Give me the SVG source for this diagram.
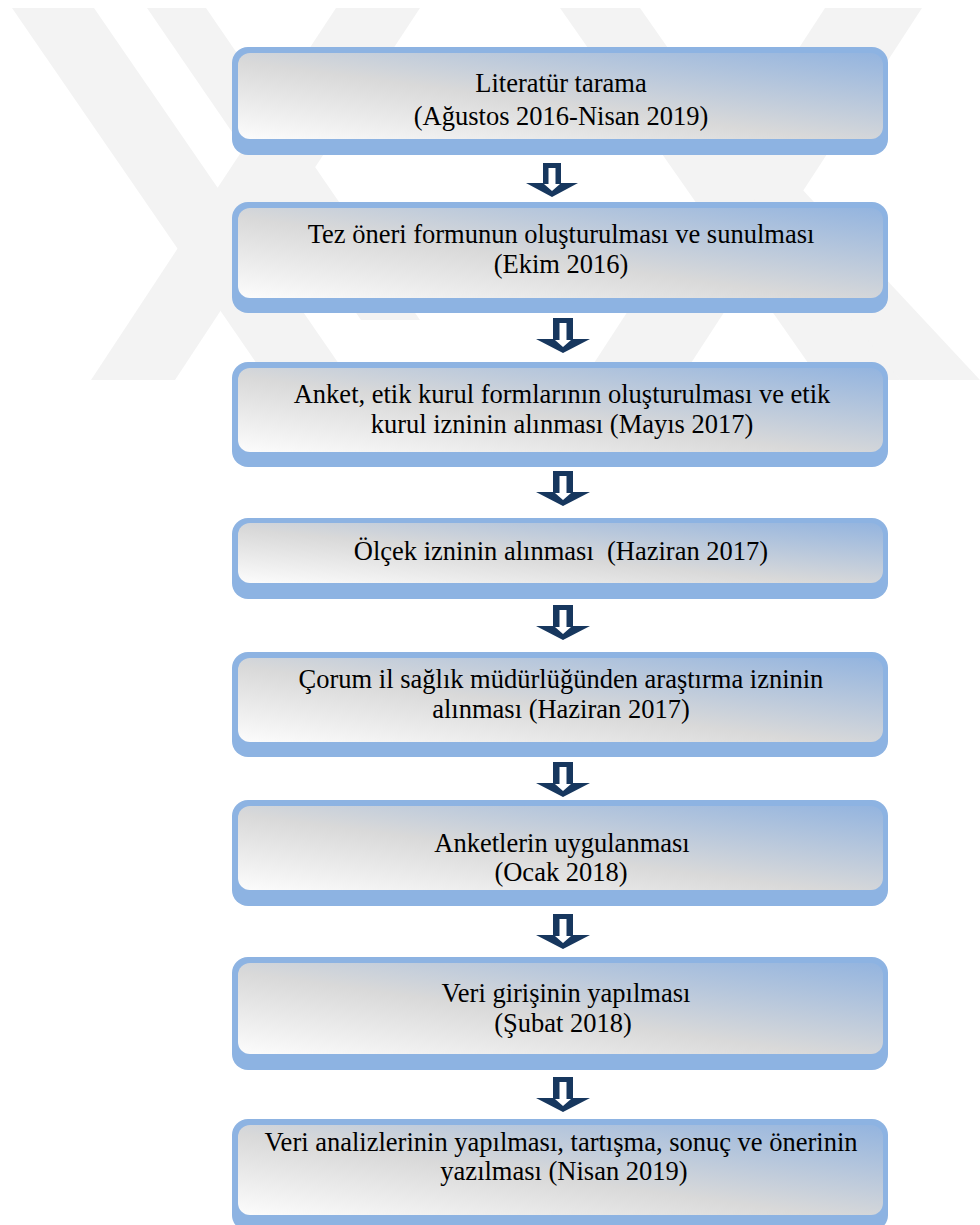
<svg xmlns="http://www.w3.org/2000/svg" width="980" height="1225" viewBox="0 0 980 1225">
<defs>
<linearGradient id="g" x1="0" y1="1" x2="1" y2="0">
<stop offset="0" stop-color="#fcfcfc"/>
<stop offset="0.45" stop-color="#d9d9d9"/>
<stop offset="1" stop-color="#93b4df"/>
</linearGradient>
<style>
.o{fill:#8db3e2}
.i{fill:url(#g)}
.t{font-family:"Liberation Serif","Times New Roman",serif;font-size:26.5px;fill:#000;text-anchor:middle}
.ad{fill:#17375e}
.aw{fill:#fff}
.w{fill:#f3f3f3}
</style>
</defs>
<rect width="980" height="1225" fill="#fff"/>
<g id="watermark">
<polygon class="w" points="12,8 94,8 350,380 268,380"/>
<polygon class="w" points="147,8 206,8 420,320 361,320"/>
<polygon class="w" points="91,380 175,380 420,8 336,8"/>
<polygon class="w" points="825,8 922,8 680,380 583,380"/>
<polygon class="w" points="560,8 640,8 900,380 820,380"/>
<polygon class="w" points="744,187 800,187 980,380 900,380"/>
</g>
<g id="connectors">
<g transform="translate(552,163)">
<path class="ad" d="M-9,0 H9 V20 H26 L0,34 L-26,20 H-9 Z"/>
<path class="aw" d="M-3.5,5 H3.5 V21 H8 L0,28 L-8,21 H-3.5 Z"/>
</g>
<g transform="translate(563,318)">
<path class="ad" d="M-10,0 H10 V21 H27 L0,35 L-27,21 H-10 Z"/>
<path class="aw" d="M-3.5,5 H3.5 V22 H8 L0,29 L-8,22 H-3.5 Z"/>
</g>
<g transform="translate(563,471)">
<path class="ad" d="M-10,0 H10 V21 H27 L0,35 L-27,21 H-10 Z"/>
<path class="aw" d="M-3.5,5 H3.5 V22 H8 L0,29 L-8,22 H-3.5 Z"/>
</g>
<g transform="translate(563,605)">
<path class="ad" d="M-10,0 H10 V21 H27 L0,35 L-27,21 H-10 Z"/>
<path class="aw" d="M-3.5,5 H3.5 V22 H8 L0,29 L-8,22 H-3.5 Z"/>
</g>
<g transform="translate(563,762)">
<path class="ad" d="M-10,0 H10 V21 H27 L0,35 L-27,21 H-10 Z"/>
<path class="aw" d="M-3.5,5 H3.5 V22 H8 L0,29 L-8,22 H-3.5 Z"/>
</g>
<g transform="translate(563,914)">
<path class="ad" d="M-10,0 H10 V21 H27 L0,35 L-27,21 H-10 Z"/>
<path class="aw" d="M-3.5,5 H3.5 V22 H8 L0,29 L-8,22 H-3.5 Z"/>
</g>
<g transform="translate(563,1077)">
<path class="ad" d="M-10,0 H10 V21 H27 L0,35 L-27,21 H-10 Z"/>
<path class="aw" d="M-3.5,5 H3.5 V22 H8 L0,29 L-8,22 H-3.5 Z"/>
</g>
</g>
<g id="n1">
<rect class="o" x="232" y="47" width="656" height="108" rx="16"/>
<rect class="i" x="238" y="53" width="645" height="86" rx="12"/>
<text class="t" x="561" y="92">Literatür tarama</text>
<text class="t" x="561" y="125">(Ağustos 2016-Nisan 2019)</text>
</g>
<g id="n2">
<rect class="o" x="232" y="202" width="656" height="111" rx="16"/>
<rect class="i" x="238" y="208" width="645" height="90" rx="12"/>
<text class="t" x="561" y="243">Tez öneri formunun oluşturulması ve sunulması</text>
<text class="t" x="561" y="273">(Ekim 2016)</text>
</g>
<g id="n3">
<rect class="o" x="232" y="362" width="656" height="105" rx="16"/>
<rect class="i" x="238" y="368" width="645" height="84" rx="12"/>
<text class="t" x="562" y="403">Anket, etik kurul formlarının oluşturulması ve etik</text>
<text class="t" x="562" y="433">kurul izninin alınması (Mayıs 2017)</text>
</g>
<g id="n4">
<rect class="o" x="232" y="518" width="656" height="81" rx="16"/>
<rect class="i" x="238" y="523" width="645" height="60" rx="12"/>
<text class="t" x="561" y="560" xml:space="preserve">Ölçek izninin alınması  (Haziran 2017)</text>
</g>
<g id="n5">
<rect class="o" x="232" y="652" width="656" height="105" rx="16"/>
<rect class="i" x="238" y="658" width="645" height="84" rx="12"/>
<text class="t" x="561" y="688">Çorum il sağlık müdürlüğünden araştırma izninin</text>
<text class="t" x="561" y="718">alınması (Haziran 2017)</text>
</g>
<g id="n6">
<rect class="o" x="232" y="800" width="656" height="106" rx="16"/>
<rect class="i" x="238" y="806" width="645" height="84" rx="12"/>
<text class="t" x="562" y="852">Anketlerin uygulanması</text>
<text class="t" x="561" y="881">(Ocak 2018)</text>
</g>
<g id="n7">
<rect class="o" x="232" y="957" width="656" height="113" rx="16"/>
<rect class="i" x="238" y="963" width="645" height="91" rx="12"/>
<text class="t" x="566" y="1002">Veri girişinin yapılması</text>
<text class="t" x="563" y="1032">(Şubat 2018)</text>
</g>
<g id="n8">
<rect class="o" x="232" y="1119" width="656" height="112" rx="16"/>
<rect class="i" x="238" y="1125" width="645" height="90" rx="12"/>
<text class="t" x="561" y="1151">Veri analizlerinin yapılması, tartışma, sonuç ve önerinin</text>
<text class="t" x="564" y="1180">yazılması (Nisan 2019)</text>
</g>
</svg>
